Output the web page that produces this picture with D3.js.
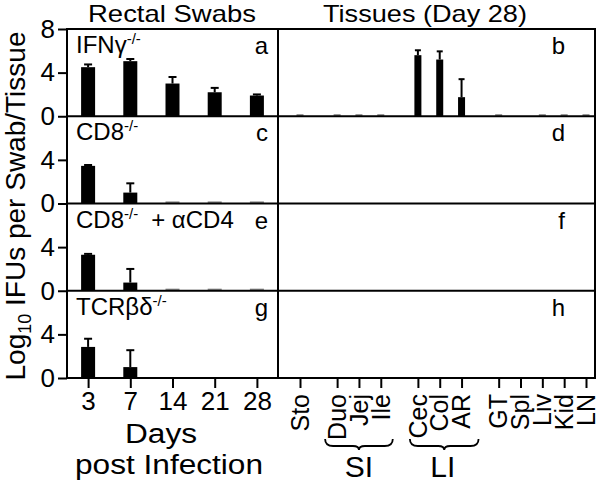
<!DOCTYPE html>
<html><head><meta charset="utf-8">
<script src="https://cdn.jsdelivr.net/npm/d3@7"></script>
<style>
body{margin:0;background:#fff;}
svg{display:block;font-family:"Liberation Sans",Arial,Helvetica,sans-serif;}
</style></head>
<body>
<svg id="c" width="600" height="486"></svg>
<script>
// ---------- data ----------
const swabDays = ["3","7","14","21","28"];
const tissues = ["Sto","Duo","Jej","Ile","Cec","Col","AR","GT","Spl","Liv","Kid","LN"];
const tissueGroup = [0,1,1,1,2,2,2,3,3,3,3,3];
const strainNames = ["IFNγ","CD8","CD8","TCRβδ"];
const strainExtra = ["","","+ αCD4",""];
const leftLetters = ["a","c","e","g"];
const rightLetters = ["b","d","f","h"];
const yTicksFirst = [0,4,8];
const yTicksOther = [0,4];

// rectal swab log10 IFUs (mean) and SEM
const swabIFNg    = [4.5, 5.05, 3.0, 2.2, 1.9];
const swabIFNgErr = [0.25, 0.2, 0.6, 0.4, 0.1];
const swabCD8     = [3.45, 1.0, 0.1, 0.1, 0.1];
const swabCD8Err  = [0.08, 0.85, 0, 0, 0];
const swabCD8CD4    = [3.3, 0.75, 0.1, 0.1, 0.1];
const swabCD8CD4Err = [0.08, 1.25, 0, 0, 0];
const swabTCR     = [2.85, 1.0, 0, 0, 0];
const swabTCRErr  = [0.75, 1.55, 0, 0, 0];

// tissues (day 28)
const tisIFNg    = [0.1,0.1,0.1,0.1,5.6,5.2,1.75,0.1,0,0.1,0.1,0.1];
const tisIFNgErr = [0,0,0,0,0.45,0.75,1.65,0,0,0,0,0];
const tisCD8     = [0,0,0,0,0,0,0,0,0,0,0,0];
const tisCD8CD4  = [0,0,0,0,0,0,0,0,0,0,0,0];
const tisTCR     = [0,0,0,0,0,0,0,0,0,0,0,0];
const tisZeroErr = [0,0,0,0,0,0,0,0,0,0,0,0];

const swabVals = [swabIFNg, swabCD8, swabCD8CD4, swabTCR];
const swabErrs = [swabIFNgErr, swabCD8Err, swabCD8CD4Err, swabTCRErr];
const tisVals = [tisIFNg, tisCD8, tisCD8CD4, tisTCR];
const tisErrs = [tisIFNgErr, tisZeroErr, tisZeroErr, tisZeroErr];

// ---------- layout ----------
const svg = d3.select("#c");
const X0 = 67, XM = 278, X1 = 595, Y0 = 29, Y1 = 378;
const FONT = 26;

const panelY = d3.scaleBand().domain(d3.range(4)).range([Y0, Y1]);
const ph = panelY.bandwidth();
const xDay = d3.scalePoint().domain(swabDays).range([X0, XM]).padding(0.5);
const gap = 0.7;
const tisIndex = tissues.map((t,i) => i + gap*tissueGroup[i]);
const xTisLin = d3.scaleLinear().domain([0, d3.max(tisIndex)]).range([300, 586]);
const xTis = d3.scaleOrdinal().domain(tissues).range(tisIndex.map(v => xTisLin(v)));

const leftBarW = 14, rightBarW = 7;

for (let p = 0; p < 4; p++) {
  const top = panelY(p);
  const y = d3.scaleLinear().domain([0, 8]).range([top + ph, top]);

  // left y axis
  const ax = svg.append("g").attr("transform", `translate(${X0},0)`)
    .call(d3.axisLeft(y).tickValues(p === 0 ? yTicksFirst : yTicksOther).tickSize(9).tickPadding(3).tickFormat(d3.format("d")));
  ax.select(".domain").remove();
  ax.selectAll("line").attr("stroke", "#000").attr("stroke-width", 2);
  ax.selectAll("text").attr("font-size", FONT).attr("fill", "#000").attr("font-family", null);

  // swab bars
  const sd = swabDays.map((d,i) => ({k:d, v:swabVals[p][i], e:swabErrs[p][i]}));
  const gL = svg.append("g");
  gL.selectAll("rect").data(sd.filter(d => d.v > 0)).join("rect")
    .attr("x", d => xDay(d.k) - leftBarW/2).attr("width", leftBarW)
    .attr("y", d => y(d.v) - (d.v < 0.5 ? 1 : 0)).attr("height", d => y(0) - y(d.v) + (d.v < 0.5 ? 1 : 0))
    .attr("fill", d => d.v < 0.5 ? "#888" : "#000");
  const eL = sd.filter(d => d.e > 0);
  gL.selectAll("line.e").data(eL).join("line").attr("class","e")
    .attr("x1", d => xDay(d.k)).attr("x2", d => xDay(d.k))
    .attr("y1", d => y(d.v)).attr("y2", d => y(d.v + d.e))
    .attr("stroke", "#000").attr("stroke-width", 2);
  gL.selectAll("line.c").data(eL).join("line").attr("class","c")
    .attr("x1", d => xDay(d.k) - 4).attr("x2", d => xDay(d.k) + 4)
    .attr("y1", d => y(d.v + d.e)).attr("y2", d => y(d.v + d.e))
    .attr("stroke", "#000").attr("stroke-width", 2);

  // tissue bars
  const td = tissues.map((t,i) => ({k:t, v:tisVals[p][i], e:tisErrs[p][i]}));
  const gR = svg.append("g");
  gR.selectAll("rect").data(td.filter(d => d.v > 0)).join("rect")
    .attr("x", d => xTis(d.k) - rightBarW/2).attr("width", rightBarW)
    .attr("y", d => y(d.v) - (d.v < 0.5 ? 1 : 0)).attr("height", d => y(0) - y(d.v) + (d.v < 0.5 ? 1 : 0))
    .attr("fill", d => d.v < 0.5 ? "#888" : "#000");
  const eR = td.filter(d => d.e > 0);
  gR.selectAll("line.e").data(eR).join("line").attr("class","e")
    .attr("x1", d => xTis(d.k)).attr("x2", d => xTis(d.k))
    .attr("y1", d => y(d.v)).attr("y2", d => y(d.v + d.e))
    .attr("stroke", "#000").attr("stroke-width", 2);
  gR.selectAll("line.c").data(eR).join("line").attr("class","c")
    .attr("x1", d => xTis(d.k) - 3).attr("x2", d => xTis(d.k) + 3)
    .attr("y1", d => y(d.v + d.e)).attr("y2", d => y(d.v + d.e))
    .attr("stroke", "#000").attr("stroke-width", 2);

  // strain label
  const st = svg.append("text").attr("x", 76).attr("y", top + 24)
    .attr("font-size", 24).attr("fill", "#000");
  st.append("tspan").text(strainNames[p]);
  st.append("tspan").attr("font-size", 15).attr("dy", -9).text("-/-");
  if (strainExtra[p]) st.append("tspan").attr("dy", 9).attr("dx", 13).text(strainExtra[p]);

  // panel letters
  svg.append("text").attr("x", 268).attr("y", top + 25).attr("text-anchor", "end")
    .attr("font-size", 24).text(leftLetters[p]);
  svg.append("text").attr("x", 565).attr("y", top + 25).attr("text-anchor", "end")
    .attr("font-size", 24).text(rightLetters[p]);

  // horizontal frame line (zero line)
  svg.append("line").attr("x1", X0).attr("x2", X1).attr("y1", y(0)).attr("y2", y(0))
    .attr("stroke", "#000").attr("stroke-width", 2);
}

// top frame line and verticals
svg.append("line").attr("x1", X0).attr("x2", X1).attr("y1", Y0).attr("y2", Y0)
  .attr("stroke", "#000").attr("stroke-width", 2);
[X0, XM, X1].forEach(x => svg.append("line").attr("x1", x).attr("x2", x)
  .attr("y1", Y0 - 1).attr("y2", Y1 + 1).attr("stroke", "#000").attr("stroke-width", 2));

// bottom axes
const bx = svg.append("g").attr("transform", `translate(0,${Y1})`)
  .call(d3.axisBottom(xDay).tickSize(10).tickPadding(4));
bx.select(".domain").remove();
bx.selectAll("line").attr("stroke", "#000").attr("stroke-width", 2);
bx.selectAll("text").attr("font-size", FONT).attr("fill", "#000").attr("font-family", null);

const tx = svg.append("g").attr("transform", `translate(0,${Y1})`)
  .call(d3.axisBottom(xTis).tickSize(10));
tx.select(".domain").remove();
tx.selectAll("line").attr("stroke", "#000").attr("stroke-width", 2);
tx.selectAll("text").attr("font-size", 25).attr("fill", "#000").attr("font-family", null)
  .attr("text-anchor", "end").attr("transform", "rotate(-90)")
  .attr("x", -16).attr("y", 0).attr("dy", "0.33em");

// braces
function brace(x1, x2, yTop, depth) {
  const m = (x1 + x2) / 2, yb = yTop + depth;
  return `M${x1},${yTop} Q${x1},${yb} ${x1+8},${yb} L${m-6},${yb} Q${m},${yb} ${m},${yb+4} Q${m},${yb} ${m+6},${yb} L${x2-8},${yb} Q${x2},${yb} ${x2},${yTop}`;
}
const groupsSI = ["Duo","Ile"], groupsLI = ["Cec","AR"];
svg.append("path").attr("d", brace(xTis(groupsSI[0]) - 12, xTis(groupsSI[1]) + 12, 439, 7))
  .attr("fill", "none").attr("stroke", "#000").attr("stroke-width", 1.8);
svg.append("path").attr("d", brace(xTis(groupsLI[0]) - 8, xTis(groupsLI[1]) + 17, 439, 7))
  .attr("fill", "none").attr("stroke", "#000").attr("stroke-width", 1.8);
svg.append("text").attr("x", (xTis("Duo") + xTis("Ile"))/2).attr("y", 477).attr("text-anchor", "middle")
  .attr("font-size", 30).text("SI");
svg.append("text").attr("x", (xTis("Cec") + xTis("AR"))/2 + 3).attr("y", 477).attr("text-anchor", "middle")
  .attr("font-size", 30).text("LI");

// titles
svg.append("text").attr("x", 172).attr("y", 22).attr("text-anchor", "middle")
  .attr("font-size", 24).attr("textLength", 168).attr("lengthAdjust", "spacingAndGlyphs").text("Rectal Swabs");
svg.append("text").attr("x", 425).attr("y", 22).attr("text-anchor", "middle")
  .attr("font-size", 24).attr("textLength", 204).attr("lengthAdjust", "spacingAndGlyphs").text("Tissues (Day 28)");

// x title
svg.append("text").attr("x", 161).attr("y", 443).attr("text-anchor", "middle")
  .attr("font-size", 27).attr("textLength", 72).attr("lengthAdjust", "spacingAndGlyphs").text("Days");
svg.append("text").attr("x", 169).attr("y", 474).attr("text-anchor", "middle")
  .attr("font-size", 27).attr("textLength", 188).attr("lengthAdjust", "spacingAndGlyphs").text("post Infection");

// y title
const yl = svg.append("text").attr("transform", "translate(25,206) rotate(-90)")
  .attr("text-anchor", "middle").attr("font-size", 28);
yl.append("tspan").text("Log");
yl.append("tspan").attr("font-size", 18).attr("dy", 6).text("10");
yl.append("tspan").attr("dy", -6).text(" IFUs per Swab/Tissue");
</script>
</body></html>
